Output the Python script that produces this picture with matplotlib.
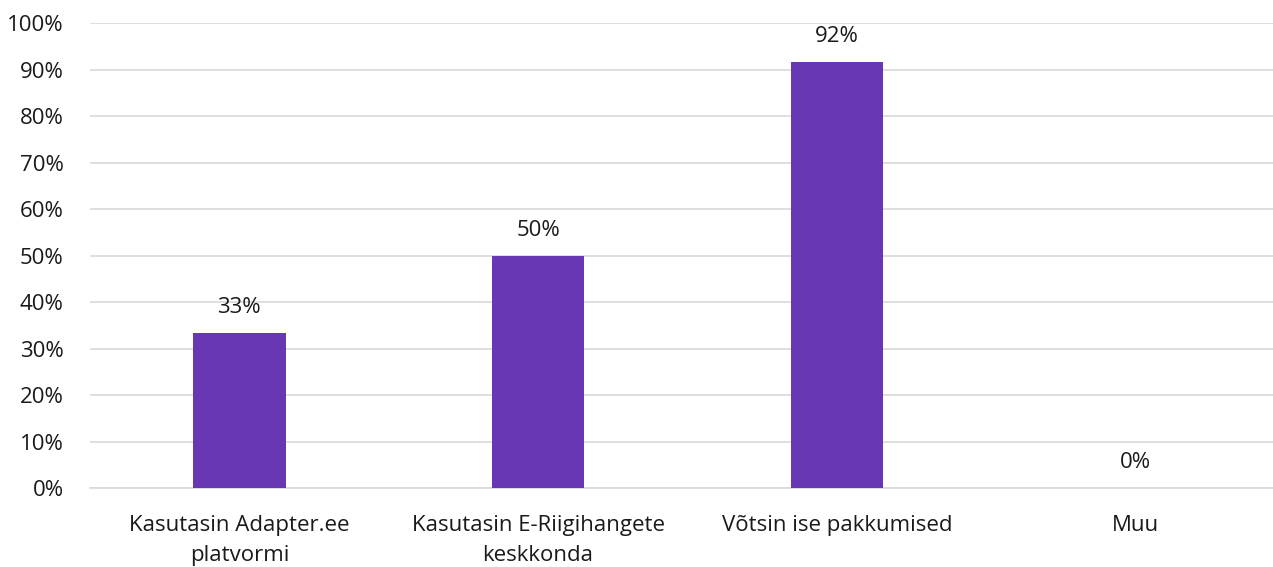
import matplotlib.pyplot as plt

categories = ['Kasutasin Adapter.ee\nplatvormi', 'Kasutasin E-Riigihangete\nkeskkonda',
              'Võtsin ise pakkumised', 'Muu']
values = [33.3, 50.0, 91.7, 0.0]
labels = ['33%', '50%', '92%', '0%']
yticks = list(range(0, 101, 10))

plt.rcParams['font.family'] = ['Open Sans', 'DejaVu Sans']
txt = '#1a1a1a'

fig = plt.figure(figsize=(12.73, 5.67), dpi=100)
ax = fig.add_axes([0.0707, 0.139, 0.9293, 0.82])

x = range(len(categories))
ax.bar(x, values, width=0.31, color='#6837B3', zorder=3)
for xi, v, lab in zip(x, values, labels):
    ax.text(xi, v + 3.2, lab, ha='center', va='bottom', fontsize=16, color=txt)

ax.set_xlim(-0.5, 3.46)
ax.set_ylim(0, 100)
ax.set_yticks(yticks)
ax.set_yticklabels([f'{t}%' for t in yticks], fontsize=16, color=txt)
ax.set_xticks(list(x))
ax.set_xticklabels(categories, fontsize=16, color=txt, linespacing=1.6)
ax.tick_params(axis='x', length=0, pad=19)
ax.tick_params(axis='y', length=0, pad=19)
ax.grid(axis='y', color='#D9D9D9', linewidth=1.2, zorder=0)
for s in ['top', 'right', 'left']:
    ax.spines[s].set_visible(False)
ax.spines['bottom'].set_color('#D9D9D9')
ax.spines['bottom'].set_linewidth(1.2)

fig.savefig('out.png', dpi=100)
